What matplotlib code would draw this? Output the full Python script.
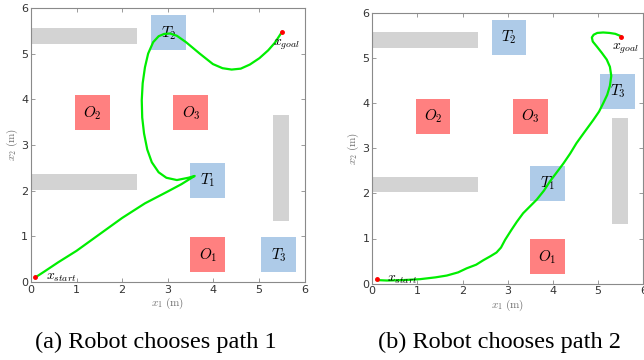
"""Two robot path panels: workspace with walls, obstacles, targets and the chosen path."""

import matplotlib.pyplot as plt
from matplotlib.patches import Rectangle

plt.rcParams["mathtext.fontset"] = "cm"

# workspace layout (x0, y0, width, height) in metres
WALLS = [(0.0, 5.21, 2.33, 0.35), (0.0, 2.02, 2.33, 0.35), (5.30, 1.33, 0.35, 2.33)]
OBSTACLES = {"O_1": (3.49, 0.21), "O_2": (0.96, 3.32), "O_3": (3.12, 3.32)}
TARGETS_A = {"T_1": (3.49, 1.84), "T_2": (2.64, 5.07), "T_3": (5.05, 0.21)}
TARGETS_B = {"T_1": (3.49, 1.84), "T_2": (2.64, 5.07), "T_3": (5.05, 3.87)}
BOX = 0.77

X_START = (0.1, 0.1)
X_GOAL = (5.5, 5.47)

# path
PATH_A_X = [0.10, 0.30, 0.60, 1.00, 1.50, 2.00, 2.50, 3.00, 3.30, 3.59,
            3.45, 3.20, 2.97, 2.80, 2.65, 2.55, 2.48, 2.44, 2.43, 2.45,
            2.50, 2.57, 2.68, 2.80, 2.92, 3.05, 3.20, 3.40, 3.70, 3.99,
            4.20, 4.40, 4.60, 4.80, 5.01, 5.20, 5.35, 5.50]
PATH_A_Y = [0.10, 0.23, 0.43, 0.68, 1.04, 1.40, 1.72, 1.98, 2.14, 2.32,
            2.28, 2.23, 2.28, 2.40, 2.62, 2.90, 3.25, 3.60, 3.98, 4.35,
            4.70, 5.00, 5.25, 5.38, 5.43, 5.44, 5.39, 5.25, 5.00, 4.77,
            4.68, 4.65, 4.67, 4.76, 4.90, 5.07, 5.24, 5.47]

# path
PATH_B_X = [0.10, 0.32, 0.70, 1.06, 1.40, 1.65, 1.90, 2.09, 2.30, 2.46,
            2.62, 2.75, 2.85, 2.94, 3.08, 3.20, 3.34, 3.50, 3.64, 3.80,
            3.93, 4.08, 4.23, 4.38, 4.52, 4.70, 4.89, 5.02, 5.11, 5.20,
            5.26, 5.29, 5.26, 5.19, 5.08, 4.97, 4.88, 4.86, 4.90, 4.98,
            5.11, 5.25, 5.38, 5.50]
PATH_B_Y = [0.08, 0.07, 0.08, 0.10, 0.14, 0.18, 0.25, 0.34, 0.42, 0.52,
            0.61, 0.69, 0.80, 0.97, 1.19, 1.37, 1.56, 1.72, 1.86, 2.06,
            2.26, 2.46, 2.66, 2.88, 3.11, 3.36, 3.62, 3.81, 3.99, 4.18,
            4.38, 4.60, 4.80, 4.96, 5.11, 5.25, 5.36, 5.45, 5.51, 5.55,
            5.56, 5.55, 5.53, 5.48]

CAPTIONS = ["(a) Robot chooses path 1", "(b) Robot chooses path 2"]

WALL_COLOR = "#d3d3d3"
OBS_COLOR = "#ff8080"
TARGET_COLOR = "#aecbe8"
PATH_COLOR = "#00ee00"
AXIS_GREY = "#8a8a8a"


def draw_panel(ax, targets, path_x, path_y):
    for x0, y0, w, h in WALLS:
        ax.add_patch(Rectangle((x0, y0), w, h, facecolor=WALL_COLOR, edgecolor="none"))
    for name, (x0, y0) in OBSTACLES.items():
        ax.add_patch(Rectangle((x0, y0), BOX, BOX, facecolor=OBS_COLOR, edgecolor="none"))
        ax.text(x0 + BOX / 2, y0 + BOX / 2, f"${name}$", ha="center", va="center", fontsize=11)
    for name, (x0, y0) in targets.items():
        ax.add_patch(Rectangle((x0, y0), BOX, BOX, facecolor=TARGET_COLOR, edgecolor="none"))
        ax.text(x0 + BOX / 2, y0 + BOX / 2, f"${name}$", ha="center", va="center", fontsize=11)

    ax.plot(path_x, path_y, color=PATH_COLOR, linewidth=1.6, zorder=3)
    ax.plot(*X_START, "o", color="red", markersize=2.5, zorder=4)
    ax.plot(*X_GOAL, "o", color="red", markersize=2.5, zorder=4)
    ax.text(X_START[0] + 0.22, X_START[1], r"$x_{start}$", ha="left", va="center", fontsize=10, zorder=5)
    ax.text(X_GOAL[0] - 0.2, X_GOAL[1] - 0.28, r"$x_{goal}$", ha="left", va="center", fontsize=10, zorder=5)

    ax.set_xlim(0, 6)
    ax.set_ylim(0, 6)
    ax.set_xticks(range(7))
    ax.set_yticks(range(7))
    ax.tick_params(direction="in", top=True, right=True, length=3, width=0.6,
                   color=AXIS_GREY, labelsize=8, labelcolor="#333333", pad=2)
    for spine in ax.spines.values():
        spine.set_color(AXIS_GREY)
        spine.set_linewidth(0.8)
    ax.set_xlabel(r"$x_1\ \mathrm{(m)}$", fontsize=8, color="#707070", labelpad=1)
    ax.set_ylabel(r"$x_2\ \mathrm{(m)}$", fontsize=8, color="#707070", labelpad=1)


fig = plt.figure(figsize=(6.44, 3.6), dpi=100)
ax_a = fig.add_axes([0.048, 0.217, 0.425, 0.761])
ax_b = fig.add_axes([0.578, 0.212, 0.421, 0.753])

draw_panel(ax_a, TARGETS_A, PATH_A_X, PATH_A_Y)
draw_panel(ax_b, TARGETS_B, PATH_B_X, PATH_B_Y)

fig.text(156 / 644, 1 - 342 / 360, CAPTIONS[0], ha="center", va="center",
         fontsize=17.5, family="Liberation Serif")
fig.text(500 / 644, 1 - 342 / 360, CAPTIONS[1], ha="center", va="center",
         fontsize=17.5, family="Liberation Serif")

fig.savefig("out.png", dpi=100)
